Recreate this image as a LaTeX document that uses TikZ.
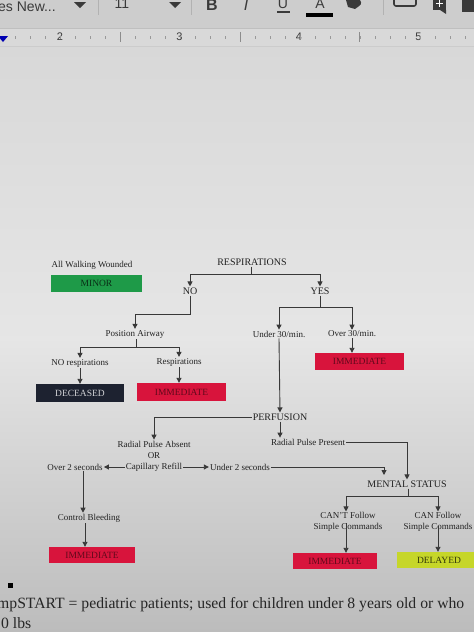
\documentclass[tikz,border=0pt]{standalone}
\usepackage{fontspec}
\setmainfont{Liberation Serif}
\newfontfamily\uisans{Liberation Sans}
\usetikzlibrary{arrows.meta,calc}
\definecolor{pagebg}{HTML}{D8D8D8}
\definecolor{pagebot}{HTML}{BCBCBC}
\definecolor{barbg}{HTML}{CDCDCD}
\definecolor{rulerbg}{HTML}{D9D9D9}
\definecolor{inkc}{HTML}{222222}
\definecolor{minorg}{HTML}{1E9A48}
\definecolor{immr}{HTML}{D8143C}
\definecolor{decb}{HTML}{1D2230}
\definecolor{delayy}{HTML}{C6D62A}
\definecolor{uiink}{HTML}{3A3A3A}
\begin{document}
\begin{tikzpicture}[x=1pt,y=-1pt,
  lbl/.style={font=\fontsize{9}{10}\selectfont, text=inkc, inner sep=1pt},
  hdr/.style={font=\fontsize{10}{11}\selectfont, text=inkc, inner sep=1pt},
  tag/.style={minimum width=#1, minimum height=17pt, inner sep=0pt, font=\fontsize{9.5}{10}\selectfont},
  ln/.style={draw=inkc!90, line width=0.9pt},
  arr/.style={ln, -{Triangle[width=5pt,length=5pt]}},
  uitxt/.style={font=\uisans\fontsize{14}{14}\selectfont, text=uiink, inner sep=0pt},
  rnum/.style={font=\uisans\fontsize{11}{11}\selectfont, text=uiink, inner sep=0pt},
]
\useasboundingbox (0,0) rectangle (474,632);
\clip (0,0) rectangle (474,632);
% backgrounds
\fill[top color=pagebg, bottom color=pagebot, middle color=pagebg!65!white] (0,46) rectangle (474,632);
\fill[barbg] (0,0) rectangle (474,28);
\fill[rulerbg] (0,28) rectangle (474,46);
\draw[black!25, line width=0.6pt] (0,28) -- (474,28);
\draw[black!20, line width=0.6pt] (0,46) -- (474,46);

% toolbar
\node[uitxt, anchor=west] (fontname) at (-2,7) {es New...};
\fill[uiink] (74,2) -- (86,2) -- (80,8) -- cycle;
\draw[black!30] (98,0) -- (98,15);
\node[uitxt] (fsize) at (122,4) {11};
\fill[uiink] (169,2) -- (181,2) -- (175,8) -- cycle;
\draw[black!30] (191,0) -- (191,15);
\node[uitxt, font=\uisans\bfseries\fontsize{16}{16}\selectfont] (bbtn) at (212,5) {B};
\node[uitxt, font=\uisans\itshape\fontsize{16}{16}\selectfont] (ibtn) at (246,5) {I};
\node[uitxt, font=\uisans\fontsize{14}{14}\selectfont] (ubtn) at (283,4) {U};
\draw[uiink, line width=1.2pt] (277,12) -- (290,12);
\node[uitxt, font=\uisans\fontsize{14}{14}\selectfont] (abtn) at (320,4) {A};
\fill[black] (306,13) rectangle (333,17);
\fill[uiink] (346,0) -- (360,0) .. controls (362,4) .. (355,9) -- (348,7) -- cycle;
\draw[black!30] (383,0) -- (383,15);
\draw[uiink, line width=1.6pt, rounded corners=2pt] (394,-4) rectangle (416,6);
\fill[uiink] (433,-2) rectangle (446,10);
\fill[uiink] (440,10) -- (446,10) -- (446,14) -- cycle;
\draw[white, line width=1.3pt] (439.5,0) -- (439.5,7) (436,3.5) -- (443,3.5);
\fill[uiink] (462,-2) rectangle (474,12);
% ruler
\foreach \i/\t in {0/2,1/3,2/4,3/5} {
  \node[rnum] at (60+119.5*\i,37) {\t};
}
\foreach \k in {0,...,34} {
  \pgfmathsetmacro{\xx}{15+15*\k}
  \draw[black!40, line width=0.5pt] (\xx,36) -- (\xx,38.5);
}
\foreach \xx in {120.5,240,359.5} { \draw[black!45, line width=0.6pt] (\xx,32) -- (\xx,42); }
\fill[blue!70!black] (-2,36) -- (8,36) -- (3,42) -- cycle;

% diagram nodes
\node[lbl] (awl) at (92,265) {All Walking Wounded};
\node[tag=91pt, fill=minorg, text=black!70!minorg] (minor) at (96.5,283.5) {MINOR};
\node[hdr] (resp) at (252,262) {RESPIRATIONS};
\node[hdr] (no) at (190,291) {NO};
\node[hdr] (yes) at (320,291) {YES};
\node[lbl] (pa) at (135,334) {Position Airway};
\node[lbl] (u30) at (279,334) {Under 30/min.};
\node[lbl] (o30) at (352,334) {Over 30/min.};
\node[tag=89pt, fill=immr, text=black!55!immr] (imm1) at (359.5,361.5) {IMMEDIATE};
\node[lbl] (nor) at (80,363) {NO respirations};
\node[lbl] (respn) at (179,362) {Respirations};
\node[tag=88pt, minimum height=18pt, fill=decb, text=white!80!decb] (dec) at (80,393) {DECEASED};
\node[tag=89pt, minimum height=18pt, fill=immr, text=black!55!immr] (imm2) at (181.5,392) {IMMEDIATE};
\node[hdr] (perf) at (280,417) {PERFUSION};
\node[lbl] (rpa) at (154,444) {Radial Pulse Absent};
\node[lbl] (orn) at (154,455.5) {OR};
\node[lbl] (cr) at (154,467) {Capillary Refill};
\node[lbl] (o2) at (75,467) {Over 2 seconds};
\node[lbl] (u2) at (240,467) {Under 2 seconds};
\node[lbl] (rpp) at (308,442) {Radial Pulse Present};
\node[hdr] (ms) at (407,484) {MENTAL STATUS};
\node[lbl, align=center, font=\fontsize{9}{10.5}\selectfont] (cant) at (348,522) {CAN'T Follow\\Simple Commands};
\node[lbl, align=center, font=\fontsize{9}{10.5}\selectfont] (can) at (438,522) {CAN Follow\\Simple Commands};
\node[lbl] (cb) at (89,518) {Control Bleeding};
\node[tag=86pt, minimum height=16pt, fill=immr, text=black!55!immr] (imm3) at (92,555) {IMMEDIATE};
\node[tag=84pt, minimum height=16pt, fill=immr, text=black!55!immr] (imm4) at (335,561) {IMMEDIATE};
\node[tag=84pt, minimum height=16pt, fill=delayy, text=black!75!delayy] (del) at (439,560) {DELAYED};

% connectors
\coordinate (rj) at (251,274);
\draw[ln] (resp.south -| rj) -- (rj);
\draw[arr] (rj) -| (no.north);
\draw[arr] (rj) -| (yes.north);
\draw[arr] (no.south) -- ++(0,19) -| (pa.north);
\coordinate (yj) at (320,307);
\draw[ln] (yes.south) -- (yj);
\draw[arr] (yj) -| (u30.north);
\draw[arr] (yj) -| (o30.north);
\draw[arr] (o30.south) -- (o30.south |- imm1.north);
\coordinate (pj) at (136,347);
\draw[ln] (pa.south -| pj) -- (pj);
\draw[arr] (pj) -| (nor.north);
\draw[arr] (pj) -| (respn.north);
\draw[arr] (nor.south) -- (dec.north);
\draw[arr] (respn.south) -- (respn.south |- imm2.north);
\draw[arr] (u30.south) -- (perf.north);
\draw[arr] (perf.west) -| (rpa.north);
\draw[arr] (perf.south) -- (perf.south |- rpp.north);
\draw[arr] (rpp.east) -| (ms.north);
\coordinate (u2end) at (384,475);
\draw[arr] (u2.east) -| (u2end);
\draw[arr] (cr.west) -- (o2.east);
\draw[arr] (cr.east) -- (u2.west);
\draw[arr] ([xshift=8pt]o2.south) -- ([xshift=8pt]o2.south |- cb.north);
\draw[arr] ([xshift=-4pt]cb.south) -- ([xshift=-4pt]cb.south |- imm3.north);
\coordinate (mj) at (408,496);
\draw[ln] (ms.south -| mj) -- (mj);
\draw[arr] (mj) -| (cant.north -| 346,0);
\draw[arr] (mj) -| (can.north);
\draw[arr] (346,523) -- (imm4.north -| 346,0);
\draw[arr] (438,526) -- (del.north -| 438,0);

% bottom text
\fill[black] (8,583) rectangle (13,588);
\node[anchor=west, inner sep=0pt, font=\fontsize{15.7}{16}\selectfont, text=black!85] (foot1) at (-3,605) {mpSTART = pediatric patients; used for children under 8 years old or who};
\node[anchor=west, inner sep=0pt, font=\fontsize{15.7}{16}\selectfont, text=black!85] (foot2) at (1,623) {0 lbs};
\end{tikzpicture}
\end{document}
